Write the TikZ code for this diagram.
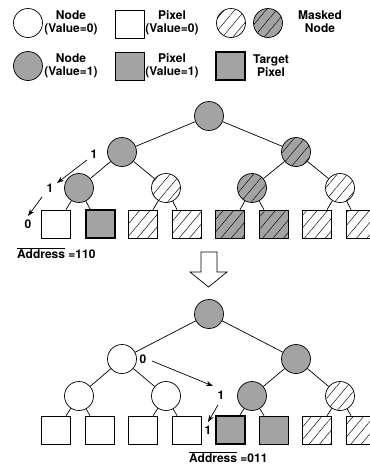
\documentclass[tikz,border=0pt]{standalone}
\usepackage{fontspec}
\setmainfont{TeX Gyre Heros}
\usetikzlibrary{patterns.meta,arrows.meta}
\tikzset{
  nd/.style={circle, draw, minimum size=29pt, inner sep=0pt, line width=0.7pt},
  px/.style={rectangle, draw, minimum width=29pt, minimum height=28pt, inner sep=0pt, line width=0.7pt},
  zero/.style={fill=white},
  one/.style={fill=black!36},
  mz/.style={pattern={Lines[angle=50,distance=8pt,line width=0.45pt]}},
  mo/.style={preaction={fill=black!36}, pattern={Lines[angle=50,distance=8pt,line width=0.45pt]}},
  tgt/.style={fill=black!36, line width=2pt},
  lbl/.style={font=\bfseries\fontsize{12}{13}\selectfont, align=center, inner sep=0pt},
  arr/.style={-{Stealth[length=7pt,width=5pt]}, line width=0.7pt},
  edge/.style={line width=0.7pt},
}
\begin{document}
\begin{tikzpicture}[x=1pt,y=-1pt]
\useasboundingbox (0,0) rectangle (370,464);
% legend
\node[nd,zero] (lg1) at (28,23) {};
\node[lbl] (lt1) at (71,23) {Node\\(Value=0)};
\node[px,zero] (lg2) at (130,24) {};
\node[lbl] (lt2) at (172,23) {Pixel\\(Value=0)};
\node[nd,mz] (lg3) at (231,23) {};
\node[nd,mo] (lg4) at (268,23) {};
\node[lbl] (lt3) at (320,22) {Masked\\Node};
\node[nd,one] (lg5) at (28,66) {};
\node[lbl] (lt5) at (71,66) {Node\\(Value=1)};
\node[px,one] (lg6) at (130,66) {};
\node[lbl] (lt6) at (172,66) {Pixel\\(Value=1)};
\node[px,tgt] (lg7) at (230,66) {};
\node[lbl] (lt7) at (271,66) {Target\\Pixel};

% tree 1
\node[nd,one] (r1) at (209,116) {};
\node[nd,one] (a1) at (122,152) {};
\node[nd,mo] (b1) at (296,152) {};
\node[nd,one] (c1) at (79,188) {};
\node[nd,mz] (d1) at (166,188) {};
\node[nd,mo] (e1) at (252,188) {};
\node[nd,mz] (f1) at (340,188) {};
\foreach \i/\x/\s in {1/56/zero,2/100/tgt,3/143/mz,4/187/mz,5/230/mo,6/274/mo,7/317/mz,8/361/mz}
  \node[px,\s] (p1\i) at (\x,224) {};
\draw[edge] (r1) -- (a1); \draw[edge] (r1) -- (b1);
\draw[edge] (a1) -- (c1); \draw[edge] (a1) -- (d1);
\draw[edge] (b1) -- (e1); \draw[edge] (b1) -- (f1);
\draw[edge] (c1) -- ([xshift=10pt]p11.north); \draw[edge] (c1) -- ([xshift=-10pt]p12.north);
\draw[edge] (d1) -- ([xshift=10pt]p13.north); \draw[edge] (d1) -- ([xshift=-10pt]p14.north);
\draw[edge] (e1) -- ([xshift=10pt]p15.north); \draw[edge] (e1) -- ([xshift=-10pt]p16.north);
\draw[edge] (f1) -- ([xshift=10pt]p17.north); \draw[edge] (f1) -- ([xshift=-10pt]p18.north);
% address path 1
\node[lbl] (t11) at (94,154) {1};
\node[lbl] (t12) at (50,188) {1};
\node[lbl] (t13) at (28,224) {0};
\coordinate (s11) at (87,160); \coordinate (e11) at (57,183);
\coordinate (s12) at (42,197); \coordinate (e12) at (28,216);
\draw[arr] (s11) -- (e11);
\draw[arr] (s12) -- (e12);
\node[lbl, anchor=west] (ad1) at (17,253) {$\overline{\hbox{Address}}$ =110};

% block arrow
\draw[line width=0.7pt, fill=white] (201,252) -- (217,252) -- (217,272) -- (227,272) -- (208.5,287) -- (190,272) -- (201,272) -- cycle;

% tree 2
\node[nd,one] (r2) at (209,314) {};
\node[nd,zero] (a2) at (122,359) {};
\node[nd,one] (b2) at (296,359) {};
\node[nd,zero] (c2) at (79,396) {};
\node[nd,zero] (d2) at (166,396) {};
\node[nd,one] (e2) at (252,396) {};
\node[nd,mz] (f2) at (340,396) {};
\foreach \i/\x/\s in {1/56/zero,2/100/zero,3/143/zero,4/187/zero,5/230/tgt,6/274/one,7/317/mz,8/361/mz}
  \node[px,\s] (p2\i) at (\x,430) {};
\draw[edge] (r2) -- (a2); \draw[edge] (r2) -- (b2);
\draw[edge] (a2) -- (c2); \draw[edge] (a2) -- (d2);
\draw[edge] (b2) -- (e2); \draw[edge] (b2) -- (f2);
\draw[edge] (c2) -- ([xshift=10pt]p21.north); \draw[edge] (c2) -- ([xshift=-10pt]p22.north);
\draw[edge] (d2) -- ([xshift=10pt]p23.north); \draw[edge] (d2) -- ([xshift=-10pt]p24.north);
\draw[edge] (e2) -- ([xshift=10pt]p25.north); \draw[edge] (e2) -- ([xshift=-10pt]p26.north);
\draw[edge] (f2) -- ([xshift=10pt]p27.north); \draw[edge] (f2) -- ([xshift=-10pt]p28.north);
% address path 2
\node[lbl] (t21) at (143,359) {0};
\node[lbl] (t22) at (221,395) {1};
\node[lbl] (t23) at (208,430) {1};
\coordinate (s21) at (152,361); \coordinate (e21) at (213,386);
\coordinate (s22) at (218,405); \coordinate (e22) at (208,422);
\draw[arr] (s21) -- (e21);
\draw[arr] (s22) -- (e22);
\node[lbl, anchor=west] (ad2) at (189,457) {$\overline{\hbox{Address}}$ =011};
\end{tikzpicture}
\end{document}
